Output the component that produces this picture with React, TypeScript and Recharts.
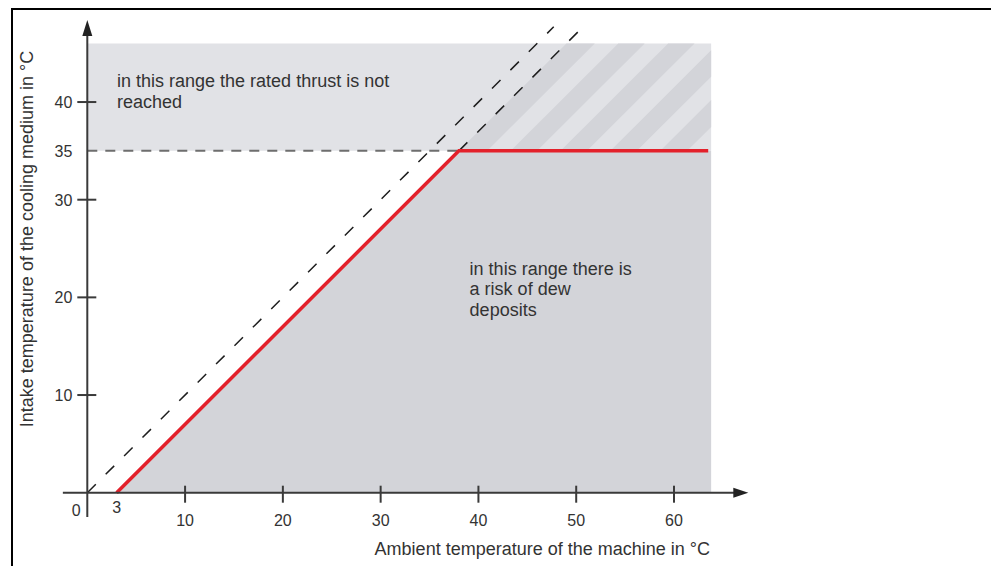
import {
  ComposedChart,
  Area,
  Line,
  Scatter,
  XAxis,
  YAxis,
  ReferenceLine,
} from "recharts";

// axis ranges (the arrow tips sit at the domain maxima)
const xMax = 67.6;
const yMax = 48.4;
const xTicks = [0, 3, 10, 20, 30, 40, 50, 60];
const yTicks = [10, 20, 30, 35, 40];

// red limit curve and the dew region under it
const limitCurve = [
  { x: 3, y: 0 },
  { x: 38, y: 35 },
  { x: 63.5, y: 35 },
];
const dewRegion = [
  { x: 3, y: 0 },
  { x: 38, y: 35 },
  { x: 63.8, y: 35 },
];

// region above 35 °C where the rated thrust is not reached
const thrustRegion = [
  { x: 0, range: [35, 46] },
  { x: 63.8, range: [35, 46] },
];

// dashed diagonals and the 35 °C guide
const dewLine = [
  { x: 0, y: 0 },
  { x: 47.7, y: 47.7 },
];
const dewLineOffset = [
  { x: 38, y: 35 },
  { x: 50.7, y: 47.7 },
];
const guide35 = [
  { x: 0, y: 35 },
  { x: 38, y: 35 },
];

// dark hatch stripes, left / right edge measured along the 35 °C line
const stripeEdges = [
  [38, 40.9],
  [43.3, 46.0],
  [48.4, 51.1],
  [53.5, 56.2],
  [58.6, 61.35],
];

const notReachedText = ["in this range the rated thrust is not", "reached"];
const dewText = ["in this range there is", "a risk of dew", "deposits"];
const annotations = [
  { x: 3.04, y: 41.5, lines: notReachedText },
  { x: 39.1, y: 22.3, lines: dewText },
];

const FONT = "'Liberation Sans', Arial, Helvetica, sans-serif";
const INK = "#333";
const AXIS = "#3a3a3a";
const LIGHT = "#e1e2e6";
const DARK = "#d3d4d9";

// a 45° stripe between y=35 and y=46, clipped at the right edge of the region
function stripe(a: number, b: number, bottom = 35, top = 46, right = 63.8) {
  const h = top - bottom;
  const low = (x: number) => Math.max(bottom, bottom + x - b);
  const high = (x: number) => Math.min(top, bottom + x - a);
  const xs = [a, b, a + h, b + h].sort((p, q) => p - q).filter((x) => x <= right);
  if (right < b + h) xs.push(right);
  return xs.map((x) => ({ x, range: [low(x), high(x)] }));
}

const XTick = (props: any) => {
  const { x, y, payload } = props;
  const v = payload.value;
  const style = { fontFamily: FONT, fontSize: 16, fill: INK };
  if (v === 0)
    return (
      <text x={x - 11} y={y + 23} textAnchor="middle" style={style}>
        0
      </text>
    );
  if (v === 3)
    return (
      <text x={x} y={y + 20} textAnchor="middle" style={style}>
        3
      </text>
    );
  return (
    <g>
      <line x1={x} x2={x} y1={y - 7} y2={y + 10} stroke={AXIS} strokeWidth={2} />
      <text x={x} y={y + 33} textAnchor="middle" style={style}>
        {v}
      </text>
    </g>
  );
};

const YTick = (props: any) => {
  const { x, y, payload } = props;
  const v = payload.value;
  return (
    <g>
      {v !== 35 && (
        <line x1={x - 10} x2={x + 9} y1={y} y2={y} stroke={AXIS} strokeWidth={2} />
      )}
      <text
        x={x - 15}
        y={y + 6}
        textAnchor="end"
        style={{ fontFamily: FONT, fontSize: 16, fill: INK }}
      >
        {v}
      </text>
    </g>
  );
};

const XArrow = (props: any) => {
  const { cx, cy } = props;
  return (
    <polygon
      points={`${cx},${cy} ${cx - 15},${cy - 5} ${cx - 15},${cy + 5}`}
      fill="#222"
    />
  );
};

const YArrow = (props: any) => {
  const { cx, cy } = props;
  return (
    <polygon
      points={`${cx},${cy} ${cx - 5},${cy + 16} ${cx + 5},${cy + 16}`}
      fill="#222"
    />
  );
};

const Note = (props: any) => {
  const { cx, cy, payload } = props;
  return (
    <text x={cx} y={cy} style={{ fontFamily: FONT, fontSize: 18, fill: INK }}>
      {payload.lines.map((line: string, i: number) => (
        <tspan key={i} x={cx} dy={i === 0 ? 0 : 20.5}>
          {line}
        </tspan>
      ))}
    </text>
  );
};

export default function App() {
  return (
    <>
      <style>{"body{margin:0;overflow:hidden;}"}</style>
      <div
        style={{
          position: "absolute",
          left: 11,
          top: 8,
          width: 978,
          height: 556,
          borderTop: "2px solid #000",
          borderLeft: "2px solid #000",
          overflow: "hidden",
          background: "#fff",
        }}
      >
        <ComposedChart
          width={978}
          height={554}
          margin={{ top: 10, right: 242.7, bottom: 11.3, left: 14.3 }}
        >
          <XAxis
            type="number"
            dataKey="x"
            domain={[0, xMax]}
            ticks={xTicks}
            interval={0}
            height={60}
            axisLine={false}
            tickLine={false}
            tickSize={0}
            tickMargin={0}
            tick={XTick}
            label={{
              content: (p: any) => (
                <text
                  x={p.viewBox.x + 455}
                  y={p.viewBox.y + 62}
                  textAnchor="middle"
                  style={{ fontFamily: FONT, fontSize: 18, fill: INK }}
                >
                  Ambient temperature of the machine in °C
                </text>
              ),
            }}
          />
          <YAxis
            type="number"
            dataKey="y"
            domain={[0, yMax]}
            ticks={yTicks}
            interval={0}
            width={60}
            axisLine={false}
            tickLine={false}
            tickSize={0}
            tickMargin={0}
            tick={YTick}
            label={{
              content: (p: any) => {
                const tx = p.viewBox.x + 5.7;
                const ty = p.viewBox.y + 219;
                return (
                  <text
                    x={tx}
                    y={ty}
                    textAnchor="middle"
                    transform={`rotate(-90 ${tx} ${ty})`}
                    style={{ fontFamily: FONT, fontSize: 18, fill: INK }}
                  >
                    Intake temperature of the cooling medium in °C
                  </text>
                );
              },
            }}
          />

          <Area
            data={thrustRegion}
            dataKey="range"
            type="linear"
            fill={LIGHT}
            fillOpacity={1}
            stroke="none"
            isAnimationActive={false}
          />
          {stripeEdges.map(([a, b], i) => (
            <Area
              key={i}
              data={stripe(a, b)}
              dataKey="range"
              type="linear"
              fill={DARK}
              fillOpacity={1}
              stroke="none"
              isAnimationActive={false}
            />
          ))}
          <Area
            data={dewRegion}
            dataKey="y"
            type="linear"
            fill={DARK}
            fillOpacity={1}
            stroke="none"
            isAnimationActive={false}
          />

          <Line
            data={guide35}
            dataKey="y"
            type="linear"
            stroke="#6e6e6e"
            strokeWidth={2}
            strokeDasharray="10 8"
            dot={false}
            isAnimationActive={false}
          />
          <Line
            data={dewLine}
            dataKey="y"
            type="linear"
            stroke="#1e1e1e"
            strokeWidth={1.5}
            strokeDasharray="12 14"
            dot={false}
            isAnimationActive={false}
          />
          <Line
            data={dewLineOffset}
            dataKey="y"
            type="linear"
            stroke="#1e1e1e"
            strokeWidth={1.5}
            strokeDasharray="12 14"
            dot={false}
            isAnimationActive={false}
          />
          <Line
            data={limitCurve}
            dataKey="y"
            type="linear"
            stroke="#e3212b"
            strokeWidth={3.5}
            dot={false}
            isAnimationActive={false}
          />

          <ReferenceLine
            segment={[
              { x: -2.5, y: 0 },
              { x: xMax - 1, y: 0 },
            ]}
            ifOverflow="visible"
            stroke={AXIS}
            strokeWidth={2}
          />
          <ReferenceLine
            segment={[
              { x: 0, y: -2.5 },
              { x: 0, y: yMax - 1 },
            ]}
            ifOverflow="visible"
            stroke={AXIS}
            strokeWidth={2}
          />
          <Scatter
            data={[{ x: xMax, y: 0 }]}
            dataKey="y"
            shape={XArrow}
            isAnimationActive={false}
          />
          <Scatter
            data={[{ x: 0, y: yMax }]}
            dataKey="y"
            shape={YArrow}
            isAnimationActive={false}
          />
          <Scatter
            data={annotations}
            dataKey="y"
            shape={Note}
            isAnimationActive={false}
          />
        </ComposedChart>
      </div>
    </>
  );
}
